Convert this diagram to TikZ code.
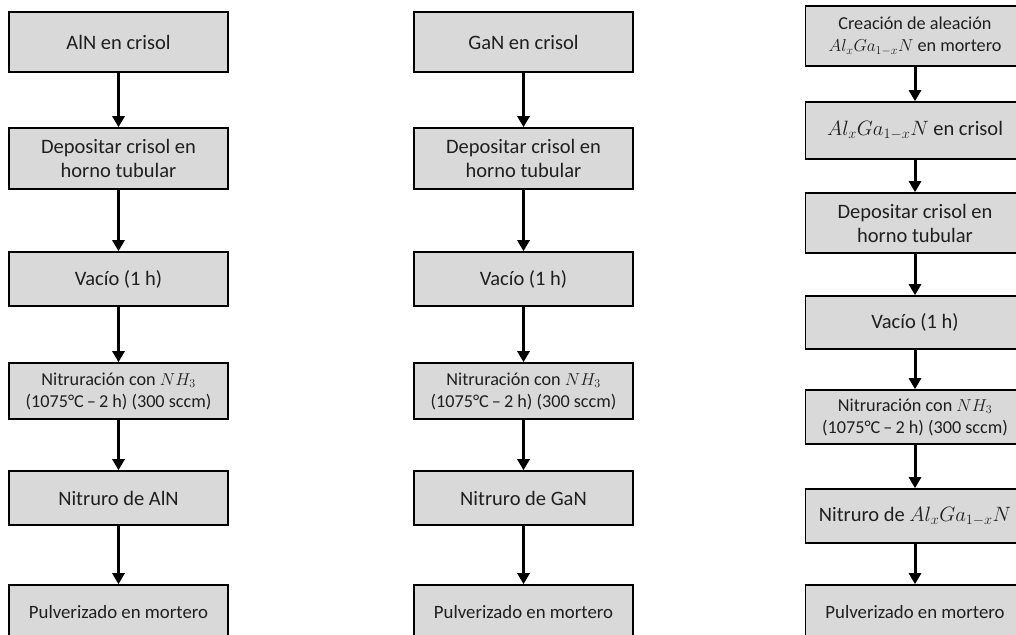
\documentclass[tikz,border=0pt]{standalone}
\usepackage{fontspec}
\setmainfont{Carlito}
\usetikzlibrary{arrows.meta}
\definecolor{boxgray}{HTML}{D9D9D9}
\definecolor{txt}{HTML}{1F1F1F}
\tikzset{
  stepbox/.style={draw=black, fill=boxgray, line width=1.6pt, minimum width=219pt,
    inner sep=0pt, align=center, text=txt, font=\fontsize{20.5}{24}\selectfont},
  smalltxt/.style={font=\fontsize{18.2}{22}\selectfont},
  pulvtxt/.style={font=\fontsize{18.8}{22}\selectfont},
  flow/.style={line width=3pt, -{Triangle[width=12pt,length=11pt]}}
}
\begin{document}
\begin{tikzpicture}[x=1pt,y=-1pt]
\useasboundingbox (0,0) rectangle (1016,634);
\clip (0,0) rectangle (1016,634);
% Column 1
\node[stepbox, minimum height=60pt] (a1) at (118.5,42) {AlN en crisol};
\node[stepbox, minimum height=61pt] (a2) at (118.5,158.5) {Depositar crisol en\\horno tubular};
\node[stepbox, minimum height=54pt] (a3) at (118.5,279) {Vacío (1 h)};
\node[stepbox, smalltxt, minimum height=56pt] (a4) at (118.5,391) {Nitruración con $NH_3$\\(1075°C\,–\,2 h) (300 sccm)};
\node[stepbox, minimum height=54pt] (a5) at (118.5,498) {Nitruro de AlN};
\node[stepbox, pulvtxt, minimum height=54pt] (a6) at (118.5,612) {Pulverizado en mortero};
% Column 2
\node[stepbox, minimum height=60pt] (b1) at (523.5,42) {GaN en crisol};
\node[stepbox, minimum height=61pt] (b2) at (523.5,158.5) {Depositar crisol en\\horno tubular};
\node[stepbox, minimum height=54pt] (b3) at (523.5,279) {Vacío (1 h)};
\node[stepbox, smalltxt, minimum height=56pt] (b4) at (523.5,391) {Nitruración con $NH_3$\\(1075°C\,–\,2 h) (300 sccm)};
\node[stepbox, minimum height=54pt] (b5) at (523.5,498) {Nitruro de GaN};
\node[stepbox, pulvtxt, minimum height=54pt] (b6) at (523.5,612) {Pulverizado en mortero};
% Column 3
\node[stepbox, smalltxt, minimum height=60pt] (c1) at (915,36) {Creación de aleación\\$Al_xGa_{1-x}N$ en mortero};
\node[stepbox, minimum height=57pt] (c2) at (915,130.5) {$Al_xGa_{1-x}N$ en crisol};
\node[stepbox, minimum height=60pt] (c3) at (915,223) {Depositar crisol en\\horno tubular};
\node[stepbox, minimum height=53pt] (c4) at (915,322.5) {Vacío (1 h)};
\node[stepbox, smalltxt, minimum height=54pt] (c5) at (915,417) {Nitruración con $NH_3$\\(1075°C\,–\,2 h) (300 sccm)};
\node[stepbox, minimum height=54pt] (c6) at (915,516) {Nitruro de $Al_xGa_{1-x}N$};
\node[stepbox, pulvtxt, minimum height=54pt] (c7) at (915,612) {Pulverizado en mortero};
% Arrows
\foreach \p/\q in {a1/a2,a2/a3,a3/a4,a4/a5,a5/a6,b1/b2,b2/b3,b3/b4,b4/b5,b5/b6,c1/c2,c2/c3,c3/c4,c4/c5,c5/c6,c6/c7}
  \draw[flow] (\p.south) -- (\q.north);
\end{tikzpicture}
\end{document}
